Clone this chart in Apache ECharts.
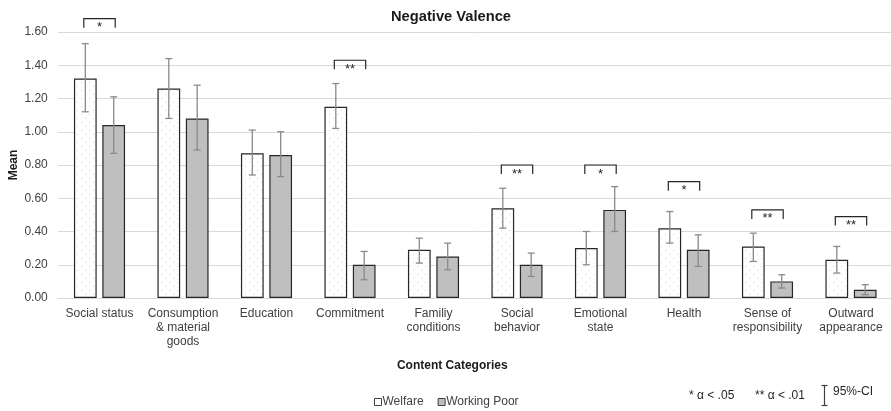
<!DOCTYPE html>
<html>
<head>
<meta charset="utf-8">
<script src="https://cdn.jsdelivr.net/npm/echarts@6/dist/echarts.min.js"></script>
<style>
  html, body { margin: 0; padding: 0; background: #fff; }
  #chart { width: 891px; height: 411px; }
</style>
</head>
<body>
<div id="chart"></div>
<script>
// Category labels (line breaks as printed under the axis)
const categories = [
  'Social status',
  'Consumption\n& material\ngoods',
  'Education',
  'Commitment',
  'Familiy\nconditions',
  'Social\nbehavior',
  'Emotional\nstate',
  'Health',
  'Sense of\nresponsibility',
  'Outward\nappearance'
];

// Means and 95% confidence bounds per group
const welfare   = [1.32, 1.26, 0.87, 1.15, 0.29, 0.54, 0.30, 0.42, 0.31, 0.23];
const welfareLo = [1.12, 1.08, 0.74, 1.02, 0.21, 0.42, 0.20, 0.33, 0.22, 0.15];
const welfareHi = [1.53, 1.44, 1.01, 1.29, 0.36, 0.66, 0.40, 0.52, 0.39, 0.31];

const poor   = [1.04, 1.08, 0.86, 0.20, 0.25, 0.20, 0.53, 0.29, 0.10, 0.05];
const poorLo = [0.87, 0.89, 0.73, 0.11, 0.17, 0.13, 0.40, 0.19, 0.06, 0.02];
const poorHi = [1.21, 1.28, 1.00, 0.28, 0.33, 0.27, 0.67, 0.38, 0.14, 0.08];

// Significance brackets: category index, level, bracket height (in mean units)
const sigCategory = [0, 3, 5, 6, 7, 8, 9];
const sigLevel    = ['*', '**', '**', '*', '*', '**', '**'];
const sigHeight   = [1.68, 1.43, 0.80, 0.80, 0.70, 0.53, 0.49];

// Y axis ticks
const yMin = 0, yMax = 1.6, yStep = 0.2;

const FONT = "'Liberation Sans', Arial, sans-serif";
const BAR_W = 0.272;   // bar width as share of a category band
const BAR_GAP = 0.25;  // gap between the pair as share of bar width

// light dotted fill for the Welfare bars
function dotPattern() {
  const c = document.createElement('canvas');
  c.width = 8; c.height = 8;
  const g = c.getContext('2d');
  g.fillStyle = '#ffffff';
  g.fillRect(0, 0, 8, 8);
  g.fillStyle = '#d6d6d6';
  g.fillRect(1, 2, 1, 1);
  g.fillRect(5, 6, 1, 1);
  return c;
}

function barOffset(api, sign) {
  const band = api.size([1, 0])[0];
  const bw = band * BAR_W;
  return sign * (bw + bw * BAR_GAP) / 2;
}

function errorSeries(name, lo, hi, sign) {
  return {
    type: 'custom',
    name: name,
    z: 5,
    silent: true,
    clip: false,
    data: lo.map((v, i) => [i, v, hi[i]]),
    renderItem: function (params, api) {
      const i = api.value(0);
      const pLo = api.coord([i, api.value(1)]);
      const pHi = api.coord([i, api.value(2)]);
      const x = pLo[0] + barOffset(api, sign);
      const cap = 3.5;
      const st = { stroke: '#8a8a8a', lineWidth: 1.3 };
      return {
        type: 'group',
        children: [
          { type: 'line', shape: { x1: x, y1: pLo[1], x2: x, y2: pHi[1] }, style: st },
          { type: 'line', shape: { x1: x - cap, y1: pLo[1], x2: x + cap, y2: pLo[1] }, style: st },
          { type: 'line', shape: { x1: x - cap, y1: pHi[1], x2: x + cap, y2: pHi[1] }, style: st }
        ]
      };
    }
  };
}

const sigSeries = {
  type: 'custom',
  name: 'sig',
  z: 6,
  silent: true,
  clip: false,
  data: sigCategory.map((c, k) => [c, sigHeight[k], sigLevel[k]]),
  renderItem: function (params, api) {
    const i = api.value(0);
    const p = api.coord([i, api.value(1)]);
    const xl = p[0] + barOffset(api, -1) - 1.5;
    const xr = p[0] + barOffset(api, 1) + 1.5;
    const leg = 9;
    return {
      type: 'group',
      children: [
        {
          type: 'polyline',
          shape: { points: [[xl, p[1] + leg], [xl, p[1]], [xr, p[1]], [xr, p[1] + leg]] },
          style: { stroke: '#262626', lineWidth: 1.2, fill: null }
        },
        {
          type: 'text',
          style: {
            text: sigLevel[params.dataIndex],
            x: p[0], y: p[1] + 2.5,
            align: 'center', verticalAlign: 'top',
            font: '13px ' + FONT, fill: '#262626'
          }
        }
      ]
    };
  }
};

const chart = echarts.init(document.getElementById('chart'), null, { renderer: 'canvas' });

chart.setOption({
  animation: false,
  backgroundColor: '#ffffff',
  title: {
    text: 'Negative Valence',
    left: 386,
    top: 4,
    textStyle: { fontFamily: FONT, fontSize: 14.7, fontWeight: 'bold', color: '#1a1a1a' }
  },
  grid: {
    left: 57.75, top: 32, width: 835, height: 266,
    containLabel: false,
    outerBoundsMode: 'none'
  },
  legend: {
    left: 369,
    top: 391,
    itemWidth: 7,
    itemHeight: 7,
    itemGap: 14,
    icon: 'rect',
    textStyle: { fontFamily: FONT, fontSize: 12, color: '#404040', padding: [0, 0, 0, -4] },
    data: [
      { name: 'Welfare', itemStyle: { color: '#ffffff', borderColor: '#404040', borderWidth: 1 } },
      { name: 'Working Poor', itemStyle: { color: '#bfbfbf', borderColor: '#404040', borderWidth: 1 } }
    ]
  },
  xAxis: {
    type: 'category',
    data: categories,
    name: 'Content Categories',
    nameLocation: 'middle',
    nameGap: 62,
    nameMoveOverlap: false,
    nameTextStyle: {
      fontFamily: FONT, fontSize: 12, fontWeight: 'bold', color: '#1a1a1a',
      padding: [0, 46, 0, 0]
    },
    axisLine: { lineStyle: { color: '#d9d9d9', width: 1 } },
    axisTick: { show: false },
    axisLabel: {
      interval: 0,
      margin: 9,
      lineHeight: 14,
      fontFamily: FONT, fontSize: 12, color: '#404040'
    }
  },
  yAxis: {
    type: 'value',
    min: yMin, max: yMax, interval: yStep,
    name: 'Mean',
    nameLocation: 'middle',
    nameRotate: 90,
    nameGap: 38,
    nameMoveOverlap: false,
    nameTextStyle: { fontFamily: FONT, fontSize: 12, fontWeight: 'bold', color: '#1a1a1a' },
    axisLine: { show: false },
    axisTick: { show: false },
    axisLabel: {
      margin: 10,
      fontFamily: FONT, fontSize: 12, color: '#404040',
      formatter: v => v.toFixed(2)
    },
    splitLine: { lineStyle: { color: '#d9d9d9', width: 1 } }
  },
  series: [
    {
      type: 'bar',
      name: 'Welfare',
      data: welfare,
      barWidth: (BAR_W * 100) + '%',
      barGap: (BAR_GAP * 100) + '%',
      itemStyle: {
        color: { image: dotPattern(), repeat: 'repeat' },
        borderColor: '#262626',
        borderWidth: 1.2
      },
      z: 2
    },
    {
      type: 'bar',
      name: 'Working Poor',
      data: poor,
      barWidth: (BAR_W * 100) + '%',
      barGap: (BAR_GAP * 100) + '%',
      itemStyle: { color: '#bfbfbf', borderColor: '#262626', borderWidth: 1.2 },
      z: 2
    },
    errorSeries('Welfare CI', welfareLo, welfareHi, -1),
    errorSeries('Working Poor CI', poorLo, poorHi, 1),
    sigSeries
  ],
  graphic: [
    {
      type: 'text', left: 689, top: 390,
      style: { text: '* \u03b1 < .05', font: '12px ' + FONT, fill: '#262626' }
    },
    {
      type: 'text', left: 755, top: 390,
      style: { text: '** \u03b1 < .01', font: '12px ' + FONT, fill: '#262626' }
    },
    {
      type: 'group', left: 819, top: 383,
      children: [
        { type: 'line', shape: { x1: 3, y1: 0, x2: 3, y2: 20 }, style: { stroke: '#404040', lineWidth: 1.2 } },
        { type: 'line', shape: { x1: 0, y1: 0, x2: 6, y2: 0 }, style: { stroke: '#404040', lineWidth: 1.2 } },
        { type: 'line', shape: { x1: 0, y1: 20, x2: 6, y2: 20 }, style: { stroke: '#404040', lineWidth: 1.2 } }
      ]
    },
    {
      type: 'text', left: 833, top: 386,
      style: { text: '95%-CI', font: '12px ' + FONT, fill: '#262626' }
    }
  ]
});
</script>
</body>
</html>
